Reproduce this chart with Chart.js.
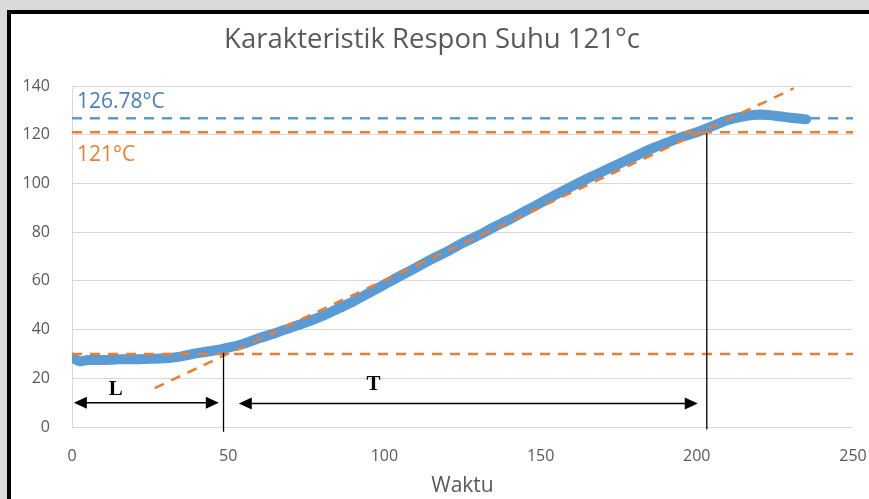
<!DOCTYPE html>
<html>
<head>
<meta charset="utf-8">
<script src="https://cdn.jsdelivr.net/npm/chart.js@4.4.1/dist/chart.umd.min.js"></script>
<style>
  html, body { margin:0; padding:0; background:#dadada; width:869px; height:499px; overflow:hidden; }
  #frame { position:absolute; left:7px; top:10px; width:858px; height:485px; border-left:4px solid #000; border-top:4px solid #000; background:#fff; }
  #wrap { position:absolute; left:0; top:0; width:858px; height:485px; }
</style>
</head>
<body>
<div id="frame"><div id="wrap"><canvas id="c" width="858" height="485"></canvas></div></div>
<script>
// ---- data ----
const timeValues = [0, 2.5, 5, 10, 15, 20, 25, 30, 35, 40, 45, 50, 55, 60, 65, 70, 75, 80, 85, 90, 95, 100, 105, 110, 115, 120, 125, 130, 135, 140, 145, 150, 155, 160, 165, 170, 175, 180, 185, 190, 195, 200, 205, 210, 215, 220, 225, 230, 235];
const tempValues = [28.5, 27, 27.5, 27.5, 27.8, 27.8, 28, 28.2, 29, 30.3, 31.3, 32.6, 34.2, 36.5, 38.5, 40.8, 43, 45.5, 48.5, 51.5, 55, 58.5, 62, 65.3, 68.8, 72, 75.5, 78.6, 82, 85.2, 88.6, 92, 95.5, 98.8, 102, 105, 108, 111, 114, 116.5, 119, 121, 123.5, 126, 127.5, 128.3, 127.8, 127, 126.3];
const steadyValue = 126.78;
const setpointValue = 121;
const baseValue = 30;
const tangentX = [26.5, 231];
const tangentY = [16, 139];
const markerX = [48.5, 203.2];
const markerTopY = [30.5, 120.5];
const markerBottomY = [-2, -1];
const arrowX1 = [0.6, 53.4];
const arrowX2 = [47, 200.3];
const arrowY = [10, 9.6];
const xTicks = [0, 50, 100, 150, 200, 250];
const yTicks = [0, 20, 40, 60, 80, 100, 120, 140];
const labelTexts = ['126.78°C', '121°C', 'L', 'T'];
const labelX = [1.6, 1.6, 14, 96.5];
const labelY = [133.6, 111.7, 15.5, 17.5];
const titleText = 'Karakteristik Respon Suhu 121°c';
const xTitle = 'Waktu';

const BLUE = '#5b9bd5';
const ORANGE = '#ed7d31';
const GREY = '#595959';
const FONT = "'Open Sans', sans-serif";

const mainData = timeValues.map((t, i) => ({x: t, y: tempValues[i]}));
const hLine = (v) => [{x: xTicks[0], y: v}, {x: xTicks[xTicks.length - 1], y: v}];

const datasets = [
  { label: 'Suhu', data: mainData, borderColor: BLUE, backgroundColor: BLUE, borderWidth: 10, pointRadius: 0, showLine: true, tension: 0.3, borderCapStyle: 'round', borderJoinStyle: 'round', order: 10 },
  { label: 'steady', data: hLine(steadyValue), borderColor: BLUE, borderWidth: 2.5, borderDash: [10, 8], pointRadius: 0, showLine: true, order: 5 },
  { label: 'setpoint', data: hLine(setpointValue), borderColor: ORANGE, borderWidth: 2.5, borderDash: [10, 8], pointRadius: 0, showLine: true, order: 4 },
  { label: 'base', data: hLine(baseValue), borderColor: ORANGE, borderWidth: 2.5, borderDash: [10, 8], pointRadius: 0, showLine: true, order: 4 },
  { label: 'tangent', data: tangentX.map((x, i) => ({x, y: tangentY[i]})), borderColor: ORANGE, borderWidth: 2.5, borderDash: [10, 8], pointRadius: 0, showLine: true, order: 3 },
];
markerX.forEach((x, i) => {
  datasets.push({ label: 'marker' + i, data: [{x, y: markerTopY[i]}, {x, y: markerBottomY[i]}], borderColor: '#000', borderWidth: 1.3, pointRadius: 0, showLine: true, clip: false, order: 1 });
});

const overlay = {
  id: 'overlay',
  afterDatasetsDraw(chart) {
    const {ctx, scales: {x, y}} = chart;
    ctx.save();
    ctx.strokeStyle = '#000';
    ctx.fillStyle = '#000';
    ctx.lineWidth = 1.5;
    const head = 13, half = 6;
    arrowX1.forEach((a, i) => {
      const x1 = x.getPixelForValue(a), x2 = x.getPixelForValue(arrowX2[i]);
      const py = y.getPixelForValue(arrowY[i]);
      ctx.beginPath();
      ctx.moveTo(x1 + head - 2, py); ctx.lineTo(x2 - head + 2, py); ctx.stroke();
      ctx.beginPath();
      ctx.moveTo(x1, py); ctx.lineTo(x1 + head, py - half); ctx.lineTo(x1 + head, py + half); ctx.closePath(); ctx.fill();
      ctx.beginPath();
      ctx.moveTo(x2, py); ctx.lineTo(x2 - head, py - half); ctx.lineTo(x2 - head, py + half); ctx.closePath(); ctx.fill();
    });
    const styles = [
      {font: "21px " + FONT, color: '#4a7ebb', align: 'left'},
      {font: "21px " + FONT, color: ORANGE, align: 'left'},
      {font: "bold 21px 'Liberation Serif', serif", color: '#000', align: 'center'},
      {font: "bold 21px 'Liberation Serif', serif", color: '#000', align: 'center'},
    ];
    labelTexts.forEach((t, i) => {
      ctx.font = styles[i].font;
      ctx.fillStyle = styles[i].color;
      ctx.textAlign = styles[i].align;
      ctx.textBaseline = 'middle';
      ctx.fillText(t, x.getPixelForValue(labelX[i]), y.getPixelForValue(labelY[i]));
    });
    ctx.restore();
  }
};

new Chart(document.getElementById('c'), {
  type: 'scatter',
  data: { datasets },
  options: {
    responsive: false,
    animation: false,
    layout: { padding: { left: 0, right: 16, top: 0, bottom: 0 } },
    plugins: {
      legend: { display: false },
      tooltip: { enabled: false },
      title: { display: true, text: titleText, color: GREY, font: { family: FONT, size: 27.5, weight: 'normal' }, padding: { top: 10, bottom: 29 } },
    },
    scales: {
      x: {
        type: 'linear', min: 0, max: 250,
        afterBuildTicks: (s) => { s.ticks = xTicks.map(v => ({value: v})); },
        afterFit: (s) => { s.height = 72; s.paddingRight = 0; s.paddingLeft = 0; },
        grid: { display: false, drawTicks: false },
        border: { display: false },
        ticks: { color: GREY, font: { family: FONT, size: 16 }, padding: 20, maxRotation: 0 },
        title: { display: true, text: xTitle, color: GREY, font: { family: FONT, size: 21 }, padding: { top: 0, bottom: 0 } },
      },
      y: {
        type: 'linear', min: 0, max: 140,
        afterBuildTicks: (s) => { s.ticks = yTicks.map(v => ({value: v})); },
        afterFit: (s) => { s.width = 61; },
        grid: { color: '#d9d9d9', drawTicks: false, lineWidth: 1 },
        border: { display: true, color: '#d9d9d9' },
        ticks: { color: GREY, font: { family: FONT, size: 16 }, padding: 22 },
      },
    },
  },
  plugins: [overlay],
});
</script>
</body>
</html>
